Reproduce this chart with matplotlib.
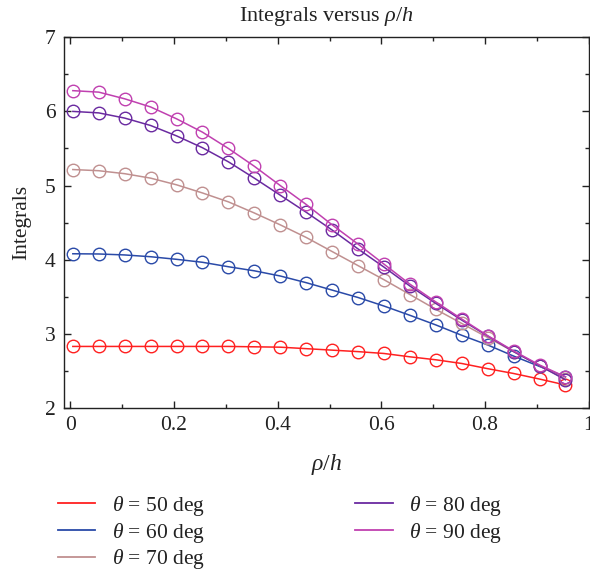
import numpy as np
import matplotlib
matplotlib.use("Agg")
import matplotlib.pyplot as plt
from matplotlib.ticker import MultipleLocator, FixedLocator
from matplotlib.lines import Line2D

plt.rcParams['font.family'] = ['Liberation Serif', 'DejaVu Serif']
plt.rcParams['mathtext.fontset'] = 'custom'
plt.rcParams['mathtext.rm'] = 'Liberation Serif'
plt.rcParams['mathtext.it'] = 'Liberation Serif:italic'

x = [0.005, 0.055, 0.105, 0.155, 0.205, 0.255, 0.305, 0.355, 0.405, 0.455,
     0.505, 0.555, 0.605, 0.655, 0.705, 0.755, 0.805, 0.855, 0.905, 0.955]

theta50 = [2.83, 2.83, 2.83, 2.83, 2.83, 2.83, 2.83, 2.825, 2.82, 2.80,
           2.78, 2.76, 2.735, 2.69, 2.65, 2.60, 2.53, 2.465, 2.39, 2.31]
theta60 = [4.08, 4.077, 4.064, 4.04, 4.005, 3.965, 3.905, 3.85, 3.78, 3.69,
           3.59, 3.49, 3.375, 3.25, 3.12, 2.98, 2.85, 2.70, 2.56, 2.42]
theta70 = [5.216, 5.20, 5.16, 5.10, 5.01, 4.90, 4.78, 4.63, 4.47, 4.30,
           4.11, 3.92, 3.73, 3.53, 3.33, 3.14, 2.95, 2.76, 2.57, 2.39]
theta80 = [6.00, 5.98, 5.91, 5.81, 5.67, 5.51, 5.32, 5.10, 4.87, 4.64,
           4.40, 4.145, 3.90, 3.645, 3.41, 3.185, 2.97, 2.76, 2.57, 2.38]
theta90 = [6.28, 6.26, 6.17, 6.06, 5.90, 5.72, 5.50, 5.26, 5.00, 4.745,
           4.47, 4.21, 3.94, 3.67, 3.43, 3.20, 2.975, 2.77, 2.58, 2.42]

series = [theta50, theta60, theta70, theta80, theta90]
labels = [r'$\theta$ = 50 deg', r'$\theta$ = 60 deg', r'$\theta$ = 70 deg',
          r'$\theta$ = 80 deg', r'$\theta$ = 90 deg']
colors = ['#ff2020', '#2a4aa8', '#c09090', '#6a2aa0', '#c040b0']

xticks = [0, 0.2, 0.4, 0.6, 0.8, 1.0]
xticklabels = ['0', '0.2', '0.4', '0.6', '0.8', '1']
yticks = [2, 3, 4, 5, 6, 7]

fig = plt.figure(figsize=(5.9, 5.69), dpi=100)
ax = fig.add_axes([0.1085, 0.283, 0.8895, 0.6515])

for ys, c in zip(series, colors):
    ax.plot(x, ys, color=c, lw=1.1, marker='o', ms=9, mfc='none',
            mec=c, mew=1.0)

ax.set_xlim(-0.012, 1.0)
ax.set_ylim(2, 7)
ax.xaxis.set_major_locator(FixedLocator(xticks))
ax.set_xticklabels(xticklabels)
ax.xaxis.set_minor_locator(MultipleLocator(0.1))
ax.yaxis.set_major_locator(FixedLocator(yticks))
ax.yaxis.set_minor_locator(MultipleLocator(0.5))
ax.tick_params(which='both', direction='in', top=True, right=True,
               labelsize=15.5, colors='#222222', width=1.0)
ax.tick_params(which='major', length=5, pad=6)
ax.tick_params(which='minor', length=3)
for s in ax.spines.values():
    s.set_linewidth(1.0)
    s.set_color('#222222')

ax.set_title(r'Integrals versus $\rho/h$', fontsize=16, color='#222222', pad=12)
ax.set_xlabel(r'$\rho/h$', fontsize=17, color='#222222', labelpad=12)
ax.set_ylabel('Integrals', fontsize=15.5, color='#222222', labelpad=10)

handles = [Line2D([], [], color=c, lw=1.3) for c in colors]
leg = fig.legend(handles, labels, ncol=2, loc='upper left',
                 bbox_to_anchor=(0.098, 1 - 494 / 569), frameon=False,
                 fontsize=15.5, handlelength=1.75, handletextpad=0.75,
                 columnspacing=7.0, labelspacing=0.12, borderaxespad=0,
                 borderpad=0)
for t in leg.get_texts():
    t.set_color('#222222')

fig.savefig('out.png', dpi=100)
